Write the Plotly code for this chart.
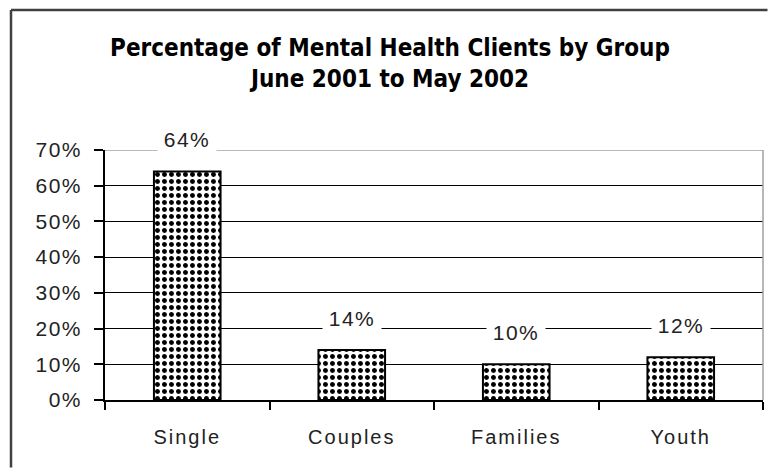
import plotly.graph_objects as go

# Share of mental health clients per client group
groups = ["Single", "Couples", "Families", "Youth"]
shares = [64, 14, 10, 12]
y_ticks = [0, 10, 20, 30, 40, 50, 60, 70]
y_tick_text = [f"{v}%" for v in y_ticks]

W, H = 768, 468
L, R, T, B = 105, 5, 150, 68
PW, PH = W - L - R, H - T - B
VALUE_FONT = dict(family="Liberation Sans, Arial", size=21, color="#222")
CAT_FONT = dict(family="Liberation Sans, Arial", size=20, color="#222")

fig = go.Figure()
fig.add_trace(go.Bar(
    x=groups,
    y=shares,
    marker=dict(
        color="white",
        line=dict(color="black", width=2),
        pattern=dict(shape=".", fgcolor="black", bgcolor="white",
                     size=7, solidity=0.4, fillmode="replace"),
    ),
    hoverinfo="skip",
))

# value labels on a white box, lifted above each bar
for g, v in zip(groups, shares):
    fig.add_annotation(
        x=g, y=v, text=f"{v}%", showarrow=False, yshift=32,
        width=50, bgcolor="white", borderpad=4, font=VALUE_FONT,
    )

# light frame along the top and right of the plot area
fig.add_shape(type="line", xref="paper", yref="y", x0=0, x1=1, y0=70, y1=70,
              line=dict(color="#a0a0a0", width=1.5), layer="above")
fig.add_shape(type="line", xref="paper", yref="y", x0=1, x1=1, y0=0, y1=70,
              line=dict(color="#a0a0a0", width=1.5), layer="above")

# chart border (left and top edges), kept inside the figure
fx0 = (11 - L) / PW
fx1 = (W - L - 0.5) / PW
fy0 = (H - B - 10) / PH
fy1 = (-B + 0.5) / PH
fig.add_shape(type="line", xref="paper", yref="paper", x0=fx0, x1=fx1,
              y0=fy0, y1=fy0, line=dict(color="#404040", width=2.5))
fig.add_shape(type="line", xref="paper", yref="paper", x0=fx0, x1=fx0,
              y0=fy0, y1=fy1, line=dict(color="#404040", width=2.5))

fig.update_layout(
    width=W, height=H,
    margin=dict(l=L, r=R, t=T, b=B),
    paper_bgcolor="white", plot_bgcolor="white",
    bargap=0.595,
    showlegend=False,
    title=dict(
        text="Percentage of Mental Health Clients by Group<br>June 2001 to May 2002",
        x=390 / W, xanchor="center", y=1 - 55.5 / H, yanchor="middle",
        font=dict(family="DejaVu Sans Condensed, Liberation Sans", size=24,
                  color="black", weight="bold"),
    ),
    xaxis=dict(
        showline=True, linecolor="black", linewidth=1.5,
        ticks="outside", tickson="boundaries", ticklen=8, tickcolor="black",
        tickwidth=1.5, showgrid=False,
        tickfont=CAT_FONT,
        ticklabelstandoff=18,
    ),
    yaxis=dict(
        range=[0, 70], tickvals=y_ticks, ticktext=y_tick_text,
        showline=True, linecolor="black", linewidth=1.5,
        ticks="outside", ticklen=9, tickcolor="black", tickwidth=1.5,
        showgrid=True, gridcolor="black", gridwidth=1.2,
        zeroline=False,
        tickfont=VALUE_FONT,
        ticklabelstandoff=8,
    ),
)

# letter spacing for the axis and value labels; no page scrollbars
page_js = (
    "var s=document.createElement('style');"
    "s.textContent='html,body{margin:0;overflow:hidden}"
    ".xtick text{letter-spacing:2px}"
    ".ytick text,.annotation-text{letter-spacing:1.5px}';"
    "document.head.appendChild(s);"
)

fig.write_html("out.html", config={"displayModeBar": False}, post_script=page_js)
